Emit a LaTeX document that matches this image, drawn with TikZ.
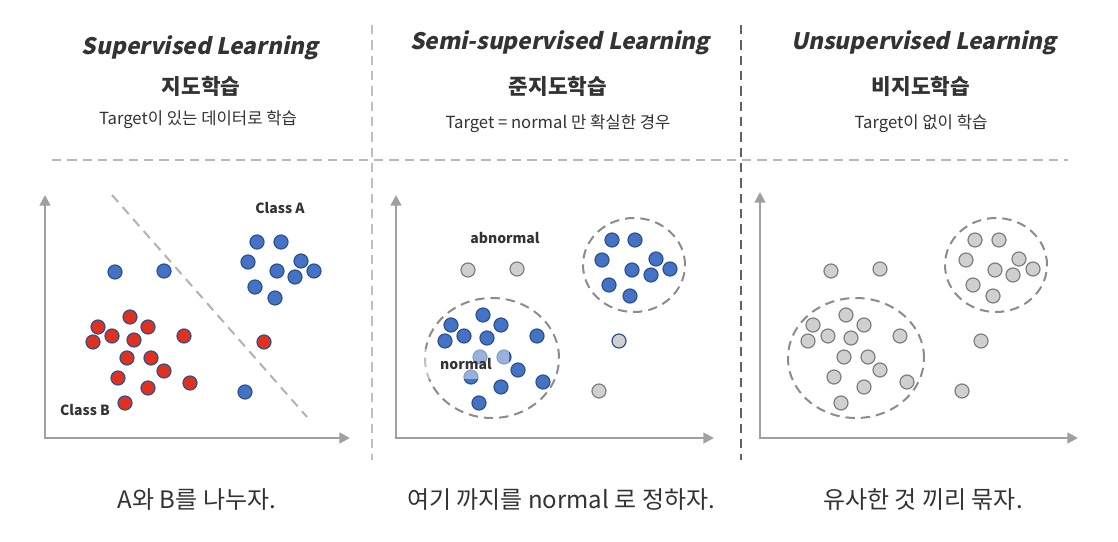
\documentclass[tikz,border=0pt]{standalone}
\usepackage{fontspec}
\setmainfont{Noto Sans CJK KR}
\newfontfamily\headfont{Noto Sans CJK KR}[UprightFeatures={FakeSlant=0.2}, BoldFeatures={FakeSlant=0.2}]
\usetikzlibrary{arrows.meta,shapes.geometric}
\definecolor{txt}{HTML}{333333}
\definecolor{dotblue}{HTML}{4472C4}
\definecolor{rimblue}{HTML}{2F528F}
\definecolor{dotred}{HTML}{E0301E}
\definecolor{dotgray}{HTML}{D0D0D0}
\definecolor{rimgray}{HTML}{7F7F7F}
\definecolor{axisgray}{HTML}{A0A0A0}

\begin{document}
\begin{tikzpicture}[x=0.75pt, y=-0.75pt,
      head/.style={font=\headfont\bfseries\fontsize{17}{20}\selectfont, text=txt},
      kor/.style={font=\bfseries\fontsize{16}{19}\selectfont, text=txt},
      note/.style={font=\fontsize{12.5}{14}\selectfont, text=txt},
      caption/.style={font=\fontsize{18}{21}\selectfont, text=txt},
      tag/.style={font=\bfseries\fontsize{10.5}{12}\selectfont, text=txt},
      dot/.style={circle, draw=rimblue, line width=0.9pt, minimum size=10.5pt, inner sep=0pt},
      bluedot/.style={dot, fill=dotblue},
      reddot/.style={dot, fill=dotred},
      graydot/.style={dot, fill=dotgray, draw=rimgray},
      axis/.style={draw=axisgray, line width=1.8pt,
                   {Triangle[length=8pt,width=8pt]}-{Triangle[length=8pt,width=8pt]}},
      group/.style={ellipse, draw=rimgray!90, line width=1.5pt, dash pattern=on 7pt off 4.5pt, inner sep=0pt},
      rule/.style={line width=1.2pt, dash pattern=on 7pt off 4.5pt}]
    \useasboundingbox[fill=white] (0,0) rectangle (1118,542);

    % frame of the three columns
    \coordinate (h1) at (52,160);  \coordinate (h2) at (1068,160);
    \coordinate (v1a) at (372,25); \coordinate (v1b) at (372,460);
    \coordinate (v2a) at (741,25); \coordinate (v2b) at (741,460);
    \draw[rule, draw=black!28] (h1) -- (h2);
    \draw[rule, draw=black!25] (v1a) -- (v1b);
    \draw[rule, draw=black!62, line width=1pt] (v2a) -- (v2b);

    % headings
    \node[head] (t1) at (200,48) {Supervised Learning};
    \node[kor]  (k1) at (201,86) {지도학습};
    \node[note] (n1) at (198,120) {Target이 있는 데이터로 학습};
    \node[head] (t2) at (560,43) {Semi-supervised Learning};
    \node[kor]  (k2) at (558,86) {준지도학습};
    \node[note] (n2) at (558,124) {Target = normal 만 확실한 경우};
    \node[head] (t3) at (924,43) {Unsupervised Learning};
    \node[kor]  (k3) at (921,86) {비지도학습};
    \node[note] (n3) at (921,124) {Target이 없이 학습};

    % captions
    \node[caption] (c1) at (197,500) {A와 B를 나누자.};
    \node[caption] (c2) at (561,500) {여기 까지를 normal 로 정하자.};
    \node[caption] (c3) at (923,500) {유사한 것 끼리 묶자.};

    % axes
    \coordinate (o1) at (45,438);  \coordinate (ya) at (45,195);  \coordinate (xa) at (350,438);
    \coordinate (o2) at (396,438); \coordinate (yb) at (396,195); \coordinate (xb) at (714,438);
    \coordinate (o3) at (760,438); \coordinate (yc) at (760,192); \coordinate (xc) at (1078,438);
    \draw[axis] (ya) -- (o1) -- (xa);
    \draw[axis] (yb) -- (o2) -- (xb);
    \draw[axis] (yc) -- (o3) -- (xc);

    % supervised: boundary and classes
    \coordinate (cutA) at (112,195); \coordinate (cutB) at (307,417);
    \draw[draw=black!30, line width=1.5pt, dash pattern=on 7pt off 5pt] (cutA) -- (cutB);
    \node[tag] (classA) at (280,208) {Class A};
    \node[tag] (classB) at (85,410) {Class B};
    \foreach \x/\y [count=\i] in {257/242, 281/242, 248/262, 301/261, 277/271, 295/277,
        314/271, 255/287, 275/298, 115/272, 164/271, 245/392}
      \node[bluedot] (sa\i) at (\x,\y) {};
    \foreach \x/\y [count=\i] in {130/317, 98/327, 148/327, 112/336, 93/342, 134/340,
        184/336, 127/358, 151/358, 164/371, 118/378, 148/388, 190/383, 125/403, 264/342}
      \node[reddot] (sb\i) at (\x,\y) {};

    % semi-supervised
    \node[group, minimum width=100.5pt, minimum height=90pt] (g2a) at (492,358) {};
    \node[group, minimum width=76.5pt, minimum height=70.5pt] (g2b) at (634,265) {};
    \foreach \x/\y [count=\i] in {612/240, 635/240, 602/260, 656/259, 632/270, 651/275,
        670/269, 609/285, 630/296, 483/315, 451/325, 501/325, 464/336, 445/341, 487/338,
        537/336, 518/370, 501/387, 543/382, 479/403, 480/357, 504/357, 471/377}
      \node[bluedot] (m\i) at (\x,\y) {};
    \foreach \x/\y [count=\i] in {468/270, 517/269, 599/391}
      \node[graydot] (u\i) at (\x,\y) {};
    \node[graydot, draw=rimblue] (q) at (619,341) {};
    \node[tag, fill=white, fill opacity=0.45, text opacity=1, inner sep=0pt,
          minimum width=64.5pt, minimum height=23pt] (normal) at (466,364) {normal};
    \node[tag, fill=white] (abnormal) at (505,238) {abnormal};

    % unsupervised
    \node[group, minimum width=102pt, minimum height=90pt] (g3a) at (856,358) {};
    \node[group, minimum width=76.5pt, minimum height=70.5pt] (g3b) at (996,265) {};
    \foreach \x/\y [count=\i] in {975/240, 999/240, 966/260, 1019/259, 995/270, 1013/275,
        1033/269, 973/285, 993/296, 831/271, 880/269, 846/315, 813/325, 864/325, 828/336,
        808/341, 851/338, 900/336, 844/357, 868/357, 880/370, 834/377, 864/387, 907/382,
        841/403, 981/341, 962/391}
      \node[graydot] (p\i) at (\x,\y) {};
  \end{tikzpicture}
\end{document}
